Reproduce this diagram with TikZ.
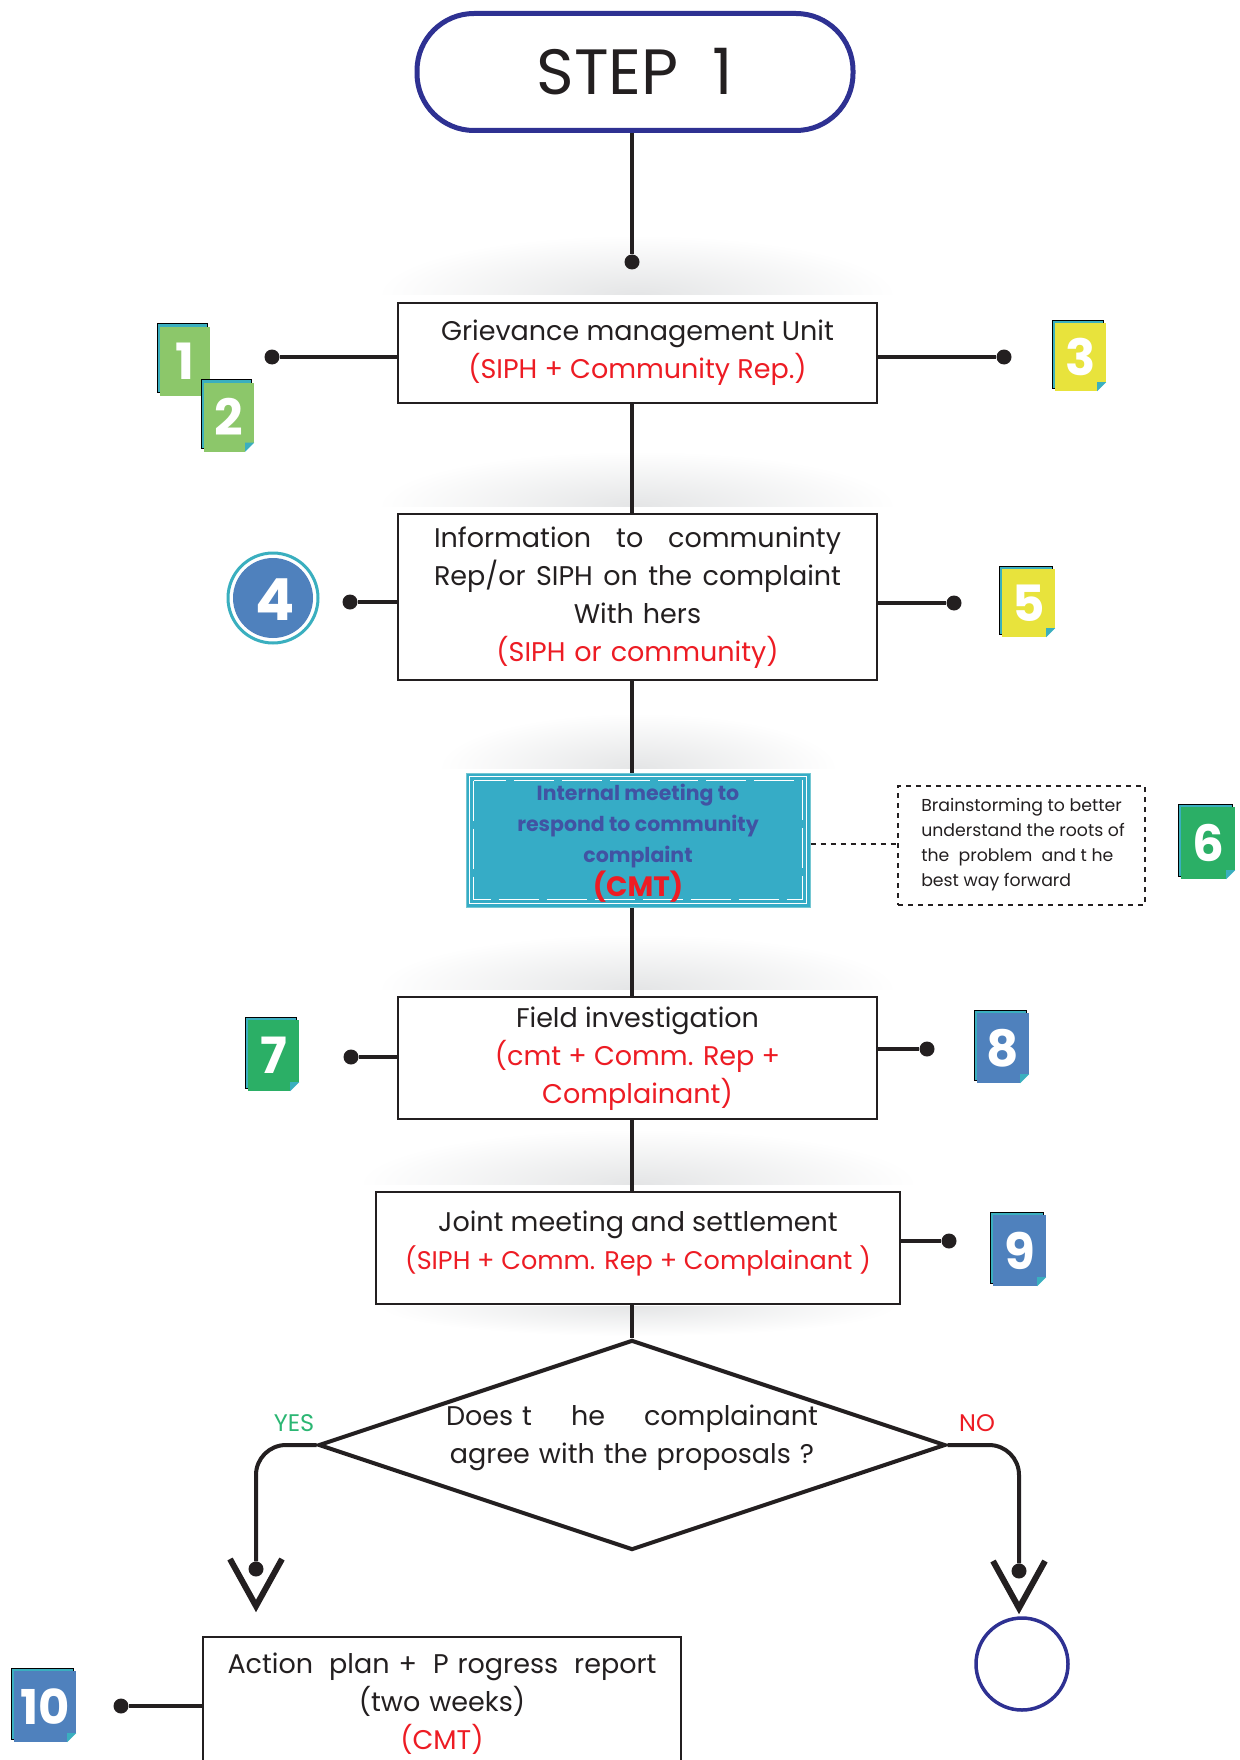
\documentclass[tikz,border=0pt]{standalone}
\usepackage{fontspec}
\setmainfont{Poppins}
\usetikzlibrary{shapes.geometric,calc,shadows}
\definecolor{navy}{HTML}{2E3192}
\definecolor{cred}{HTML}{ED1C24}
\definecolor{ink}{HTML}{231F20}
\definecolor{tealfill}{HTML}{36ACC6}
\definecolor{tealedge}{HTML}{3AAFBF}
\definecolor{tealtext}{HTML}{4153A3}
\definecolor{lgreen}{HTML}{8CC76A}
\definecolor{dgreen}{HTML}{2BAF66}
\definecolor{cyellow}{HTML}{E8E33C}
\definecolor{cblue}{HTML}{4F81BD}
\definecolor{cyes}{HTML}{2BB673}
\definecolor{shadowgray}{HTML}{E4E5E6}
\tikzset{
  box/.style={draw=ink, line width=2pt, fill=white, inner sep=0pt},
  txt/.style={align=center, text=ink, font=\fontsize{27}{38}\selectfont},
  conn/.style={draw=ink, line width=4pt},
  dot/.style={circle, fill=ink, inner sep=0pt, minimum size=15pt},
  badge/.style={inner sep=0pt, text=white, font=\bfseries\fontsize{50}{50}\selectfont,
    copy shadow={shadow xshift=-3pt, shadow yshift=3pt, fill=tealedge}},
  vtip/.style={draw=ink, line width=6pt, miter limit=10},
  dotted box/.style={draw=ink, line width=2.5pt, dash pattern=on 5pt off 5pt}
}
\newcommand{\fold}[1]{%
  \fill[white] ($(#1.south east)+(-9,0)$) rectangle ($(#1.south east)+(1,-9)$);
  \fill[tealedge] ($(#1.south east)+(-9,0)$) -- ($(#1.south east)+(-9,-9)$) -- ($(#1.south east)+(0,-9)$) -- ($(#1.south east)+(-3,-6)$) -- cycle;}
% soft haze: centre x, half width, base y, height, direction (-1 above, 1 below)
\newcommand{\haze}[5]{%
  \begin{scope}
  \clip (#1-#2,#3) rectangle (#1+#2,#3+#5*#4);
  \shade[inner color=shadowgray, outer color=white] (#1,#3) ellipse ({#2} and {#4});
  \end{scope}}
\begin{document}
\begin{tikzpicture}[x=1pt,y=-1pt]
\useasboundingbox (0,0) rectangle (1239,1760);
\coordinate (spine) at (632,0);

% soft haze above / below boxes
\haze{637}{260}{295}{60}{-1}
\haze{637}{260}{506}{55}{-1}
\haze{638}{200}{768}{55}{-1}
\haze{637}{260}{989}{55}{-1}
\haze{638}{280}{1184}{55}{-1}
\haze{638}{260}{1306}{30}{1}

% STEP 1 pill
\node[draw=navy, line width=5pt, rounded corners=57pt, minimum width=436pt, minimum height=117pt,
      font=\fontsize{64}{64}\selectfont, text=ink] (step) at (635,72) {STEP\ \ 1};
\node[dot] (d0) at (632,262) {};
\draw[conn] (step.south -| spine) -- (d0);

% Box 1
\node[box, minimum width=479pt, minimum height=100pt] (b1) at (637.5,353) {};
\node[txt] (b1t) at (637.5,353) {Grievance management Unit\\\textcolor{cred}{(SIPH + Community Rep.)}};
\node[dot] (d1) at (272,357) {};
\node[dot] (d3) at (1004,357) {};
\draw[conn] (d1) -- (d1 -| b1.west);
\draw[conn] (d3 -| b1.east) -- (d3);
\node[badge, fill=lgreen, minimum width=50pt, minimum height=69pt] (n1) at (185,361) {1};
\fold{n1}
\node[badge, fill=lgreen, minimum width=50pt, minimum height=69pt] (n2) at (229,417) {2};
\fold{n2}
\node[badge, fill=cyellow, minimum width=51pt, minimum height=68pt] (n3) at (1080.5,357) {3};
\fold{n3}

% Box 2
\node[box, minimum width=479pt, minimum height=166pt] (b2) at (637.5,597) {};
\draw[conn] (b1.south -| spine) -- (b2.north -| spine);
\node[txt, text width=407pt] (b2t) at (637.5,598) {Information\hfill to\hfill communinty\\
  Rep/or\hfill SIPH\hfill on\hfill the\hfill complaint\\With hers\\\textcolor{cred}{(SIPH or community)}};
\node[dot] (d4) at (350,602) {};
\node[dot] (d5) at (954,603) {};
\draw[conn] (d4) -- (d4 -| b2.west);
\draw[conn] (d5 -| b2.east) -- (d5);
\draw[tealedge, line width=3pt, fill=white] (273,598) circle (45);
\fill[cblue] (273,598) circle (40);
\node[text=white, font=\bfseries\fontsize{58}{58}\selectfont] (n4) at (275,600) {4};
\node[badge, fill=cyellow, minimum width=53pt, minimum height=68pt] (n5) at (1028.5,603) {5};
\fold{n5}

% Box 3 (teal)
\node[draw=tealedge!70, line width=1pt, fill=tealfill, minimum width=344pt, minimum height=134pt, inner sep=0pt] (b3) at (638,840) {};
\draw[white, line width=1.2pt] ($(b3.north west)+(4,4)$) rectangle ($(b3.south east)+(-4,-4)$);
\draw[white, line width=1.2pt, dash pattern=on 40pt off 8pt] ($(b3.north west)+(8,8)$) rectangle ($(b3.south east)+(-8,-8)$);
\draw[conn] (b2.south -| spine) -- (b3.north -| spine);
\node[align=center, text=tealtext, font=\bfseries\fontsize{20.5}{31}\selectfont] (b3t) at (638,826)
  {Internal meeting to\\respond to community\\complaint};
\node[text=cred, font=\bfseries\fontsize{28}{28}\selectfont] (b3c) at (638,887) {(CMT)};
\node[dotted box, minimum width=247pt, minimum height=119pt, inner sep=0pt] (bs) at (1021.5,845.5) {};
\node[align=left, text=ink, font=\fontsize{17.3}{25}\selectfont] (bst) at (1023,845) {Brainstorming to better\\understand the roots of\\the\ \ problem\ \ and t he\\best way forward};
\draw[dotted box] (b3.east |- 0,844) -- (bs.west |- 0,844);
\node[badge, fill=dgreen, minimum width=54pt, minimum height=72pt] (n6) at (1208,843) {6};
\fold{n6}

% Box 4
\node[box, minimum width=479pt, minimum height=122pt] (b4) at (637.5,1058) {};
\draw[conn] (b3.south -| spine) -- (b4.north -| spine);
\node[txt] (b4t) at (637.5,1059) {Field investigation\\\textcolor{cred}{(cmt + Comm. Rep +}\\\textcolor{cred}{Complainant)}};
\node[dot] (d7) at (351,1057) {};
\node[dot] (d8) at (927,1049) {};
\draw[conn] (d7) -- (d7 -| b4.west);
\draw[conn] (d8 -| b4.east) -- (d8);
\node[badge, fill=dgreen, minimum width=51pt, minimum height=71pt] (n7) at (273.5,1055.5) {7};
\fold{n7}
\node[badge, fill=cblue, minimum width=52pt, minimum height=70pt] (n8) at (1003,1048) {8};
\fold{n8}

% Box 5
\node[box, minimum width=524pt, minimum height=112pt] (b5) at (638,1248) {};
\draw[conn] (b4.south -| spine) -- (b5.north -| spine);
\node[txt] (b5t) at (638,1244) {Joint meeting and settlement\\\textcolor{cred}{\fontsize{25.5}{38}\selectfont(SIPH + Comm. Rep + Complainant )}};
\node[dot] (d9) at (949,1241) {};
\draw[conn] (d9 -| b5.east) -- (d9);
\node[badge, fill=cblue, minimum width=53pt, minimum height=71pt] (n9) at (1019.5,1250.5) {9};
\fold{n9}

% Decision
\node[diamond, draw=ink, line width=4pt, minimum width=627pt, minimum height=210pt, inner sep=0pt] (dia) at (632,1445) {};
\draw[conn] (b5.south -| spine) -- (dia.north);
\node[txt, text width=372pt] (diat) at (632,1438) {Does\ t\hfill he\hfill complainant\\agree with the proposals ?};
\node[text=cyes, font=\fontsize{24}{24}\selectfont] (yes) at (294,1423) {YES};
\node[text=cred, font=\fontsize{24}{24}\selectfont] (no) at (977,1423) {NO};
\node[dot] (dy) at (256,1569) {};
\node[dot] (dn) at (1019,1571) {};
\draw[conn, rounded corners=30pt] (dia.west) -- (256,1445) -- (dy);
\draw[conn, rounded corners=30pt] (dia.east) -- (1019,1445) -- (dn);
\draw[vtip] ($(dy)+(-26,-10)$) -- ($(dy)+(0,37)$) -- ($(dy)+(26,-10)$);
\draw[vtip] ($(dn)+(-26,-10)$) -- ($(dn)+(0,37)$) -- ($(dn)+(26,-10)$);
\node[circle, draw=navy, line width=3.5pt, minimum size=92pt, inner sep=0pt] (endc) at (1022,1664) {};

% Box 6
\node[box, minimum width=478pt, minimum height=180pt, anchor=north] (b6) at (442,1636) {};
\node[txt, text width=429pt] (b6t) at (442,1704) {Action\hfill plan\ +\hfill P rogress\hfill report\\(two weeks)\\\textcolor{cred}{(CMT)}};
\node[dot] (d10) at (121,1706) {};
\draw[conn] (d10) -- (d10 -| b6.west);
\node[badge, fill=cblue, minimum width=62pt, minimum height=71pt, font=\bfseries\fontsize{48}{48}\selectfont] (n10) at (45,1706.5) {10};
\fold{n10}
\end{tikzpicture}
\end{document}
